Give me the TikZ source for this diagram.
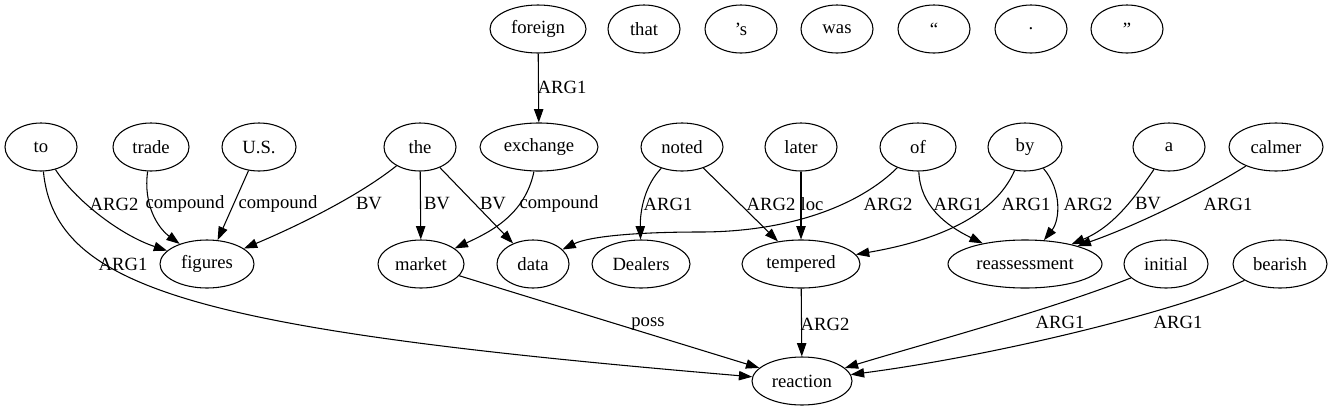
\documentclass[tikz,border=0pt]{standalone}
\usepackage{fontspec}
\setmainfont{Liberation Serif}
\newfontfamily\tms{Liberation Serif}
\usetikzlibrary{shapes.geometric,arrows.meta}
\begin{document}
\begin{tikzpicture}[x=0.75pt,y=-0.75pt,
  nd/.style={ellipse,draw,line width=0.8pt,inner sep=0pt,minimum height=36pt,minimum width=#1,font=\tms\fontsize{14}{16}\selectfont},
  nd/.default=54pt,
  edge/.style={draw,line width=0.8pt,-{Triangle[length=10pt,width=7pt]}},
  lbl/.style={inner sep=0pt,font=\tms\fontsize{14}{16}\selectfont}]
\useasboundingbox (0,0) rectangle (1335,411);
% row 1
\node[nd=72pt] (foreign) at (538,29) {foreign};
\node[nd] (that) at (644,29) {that};
\node[nd] (s) at (741,29) {’s};
\node[nd] (was) at (837,29) {was};
\node[nd] (lq) at (934,29) {“};
\node[nd] (dot) at (1031,29) {.};
\node[nd] (rq) at (1127,29) {”};
% row 2
\node[nd] (to) at (41,147) {to};
\node[nd=57pt] (trade) at (151,147) {trade};
\node[nd=55.5pt] (us) at (259,147) {U.S.};
\node[nd] (the) at (420,147) {the};
\node[nd=88.5pt] (exchange) at (539,147) {exchange};
\node[nd=61.5pt] (noted) at (682,147) {noted};
\node[nd] (later) at (801,147) {later};
\node[nd=57pt] (of) at (918,147) {of};
\node[nd=55.5pt] (by) at (1025,147) {by};
\node[nd] (a) at (1169,147) {a};
\node[nd=70.5pt] (calmer) at (1276,147) {calmer};
% row 3
\node[nd=70.5pt] (figures) at (207,264) {figures};
\node[nd=64.5pt] (market) at (421,264) {market};
\node[nd] (data) at (533,264) {data};
\node[nd=73.5pt] (dealers) at (641,264) {Dealers};
\node[nd=88.5pt] (tempered) at (801,264) {tempered};
\node[nd=115.5pt] (reass) at (1025,264) {reassessment};
\node[nd=63pt] (initial) at (1166,264) {initial};
\node[nd=70.5pt] (bearish) at (1280,264) {bearish};
% row 4
\node[nd=75pt] (reaction) at (802,381) {reaction};
% edges
\draw[edge] (foreign) -- (exchange);
\draw[edge] (to) .. controls (75,200) and (120,235) .. (figures);
\coordinate (m2) at (700,232);
\draw[edge] (to) .. controls (55,290) and (200,330) .. (reaction);
\draw[edge] (trade) .. controls (143,205) and (158,228) .. (figures);
\draw[edge] (us) -- (figures);
\draw[edge] (the) .. controls (360,195) and (300,225) .. (figures);
\draw[edge] (the) -- (market);
\draw[edge] (the) -- (data);
\draw[edge] (exchange) .. controls (525,215) and (490,232) .. (market);
\draw[edge] (noted) .. controls (645,185) and (640,210) .. (dealers);
\draw[edge] (noted) -- (tempered);
\draw[edge] (later) -- (tempered);
\draw[edge] (of) .. controls (860,205) and (790,232) .. (m2) .. controls (640,232) and (590,236) .. (data);
\draw[edge] (of) .. controls (920,205) and (945,225) .. (reass);
\draw[edge] (by) .. controls (995,215) and (940,240) .. (tempered);
\draw[edge] (by) .. controls (1062,190) and (1060,220) .. (reass);
\draw[edge] (a) .. controls (1130,205) and (1110,228) .. (reass);
\draw[edge] (calmer) .. controls (1200,195) and (1130,228) .. (reass);
\draw[edge] (market) -- (reaction);
\draw[edge] (tempered) -- (reaction);
\draw[edge] (initial) .. controls (1050,310) and (920,345) .. (reaction);
\draw[edge] (bearish) .. controls (1180,310) and (1000,355) .. (reaction);
% labels
\node[lbl] (l1) at (562,87) {ARG1};
\node[lbl] (l2) at (114,204) {ARG2};
\node[lbl] (l3) at (185,204) {compound};
\node[lbl] (l4) at (278,204) {compound};
\node[lbl] (l5) at (369,204) {BV};
\node[lbl] (l6) at (437,204) {BV};
\node[lbl] (l7) at (493,204) {BV};
\node[lbl] (l8) at (559,204) {compound};
\node[lbl] (l9) at (668,204) {ARG1};
\node[lbl] (l10) at (771,204) {ARG2};
\node[lbl] (l11) at (812,204) {loc};
\node[lbl] (l12) at (888,204) {ARG2};
\node[lbl] (l13) at (958,204) {ARG1};
\node[lbl] (l14) at (1026,204) {ARG1};
\node[lbl] (l15) at (1088,204) {ARG2};
\node[lbl] (l16) at (1148,204) {BV};
\node[lbl] (l17) at (1228,204) {ARG1};
\node[lbl] (l18) at (123,264) {ARG1};
\node[lbl] (l19) at (648,324) {poss};
\node[lbl] (l20) at (825,324) {ARG2};
\node[lbl] (l21) at (1060,322) {ARG1};
\node[lbl] (l22) at (1178,322) {ARG1};
\end{tikzpicture}
\end{document}
